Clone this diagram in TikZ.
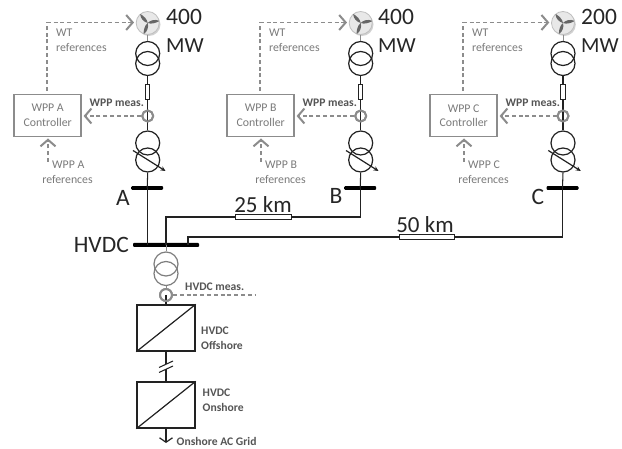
\documentclass[tikz,border=0pt]{standalone}
\usepackage{fontspec}
\setmainfont{Carlito}
\usetikzlibrary{arrows.meta,calc}
\definecolor{ctl}{HTML}{8C8C8C}
\definecolor{lab}{HTML}{7A7A7A}
\definecolor{meas}{HTML}{555555}
\definecolor{wire}{HTML}{222222}
\tikzset{
  x=1pt,y=-1pt,
  wireline/.style={draw=wire,line width=1.05pt},
  xfm/.style={circle,draw=wire,line width=1.2pt,minimum size=24pt,inner sep=0pt},
  xfmgray/.style={circle,draw=ctl!90!black,line width=1.2pt,minimum size=24pt,inner sep=0pt},
  fuse/.style={rectangle,draw=wire,fill=white,line width=.9pt,inner sep=0pt},
  sensor/.style={circle,draw=ctl,line width=1.9pt,minimum size=11pt,inner sep=0pt},
  bus/.style={rectangle,rounded corners=1pt,fill=black,inner sep=0pt,minimum height=3.6pt},
  ctlbox/.style={rectangle,draw=ctl,line width=1.8pt,minimum width=67pt,minimum height=42pt,inner sep=0pt,align=center,text=lab,font=\fontsize{11.8}{14.5}\selectfont},
  ctlflow/.style={draw=ctl,line width=1.9pt,dash pattern=on 4pt off 2.8pt,-{Straight Barb[length=6.5pt,width=15pt,line width=2pt]}},
  ctlplain/.style={draw=ctl,line width=1.5pt,dash pattern=on 4pt off 2.8pt},
  small/.style={text=lab,font=\fontsize{11.8}{14.5}\selectfont,inner sep=0pt,align=left},
  smallbold/.style={text=meas,font=\bfseries\fontsize{11.6}{14.3}\selectfont,inner sep=0pt,align=left},
  big/.style={text=black!85,font=\fontsize{23.5}{28}\selectfont,inner sep=0pt},
  rate/.style={text=black!85,font=\fontsize{21.5}{26}\selectfont,inner sep=0pt},
  mid/.style={text=black!85,font=\fontsize{23}{26}\selectfont,inner sep=0pt},
  conv/.style={rectangle,draw=wire,line width=1.4pt,minimum width=58pt,minimum height=46pt,inner sep=0pt},
  wtg/.style={circle,draw=black!25,fill=black!9,line width=.8pt,minimum size=23pt,inner sep=0pt},
}
% #1 letter, #2 x offset of the feeder, #3 rating, #4 x offset of the controller, #5 x offset of the rating
\newcommand{\feederunit}[5]{%
  \fill[black!18] (149+#2,24.5) circle (11.5);
  \node[wtg] (wt#1) at (147.7+#2,23) {};
  \foreach \ang in {10,130,250}{
    \fill[black!60,rotate around={\ang:(147.7+#2,23)}] (147.7+#2,23) .. controls (151+#2,20.5) and (156+#2,20.5) .. (159+#2,22.7) -- (159+#2,23.3) .. controls (155+#2,24.5) and (151+#2,25) .. (147.7+#2,23) -- cycle;
  }
  \node[xfm] (up#1a) at (147.7+#2,53.5) {};
  \node[xfm] (up#1b) at (147.7+#2,63.5) {};
  \node[fuse,minimum width=4.2pt,minimum height=14.5pt] (f#1) at (147.7+#2,92) {};
  \node[sensor] (s#1) at (147.7+#2,116) {};
  \node[xfm] (lo#1a) at (147.7+#2,143) {};
  \node[xfm] (lo#1b) at (147.7+#2,160) {};
  \node[bus,minimum width=32pt] (bus#1) at (147.2+#2,188) {};
  \draw[draw=black!45,line width=.8pt] (wt#1) -- (up#1a);
  \draw[wireline] (up#1b.south) -- (f#1.north);
  \draw[wireline] (f#1.south) -- (s#1.center);
  \draw[wireline] (s#1.center) -- (lo#1a.north);
  \draw[wireline] (lo#1b.south) -- (bus#1.center);
  \node[sensor] at (s#1) {};
  \coordinate (ta#1) at (133+#2,150.5);
  \coordinate (tb#1) at (165.5+#2,171);
  \draw[draw=wire,line width=1.2pt,-{Stealth[length=5pt,width=4.5pt]}] (ta#1) -- (tb#1);
  \node[ctlbox] (ctl#1) at (47.7+#4,115.5) {WPP #1\\Controller};
  \coordinate (gt#1) at (47.2+#4,91);
  \coordinate (gc#1) at (47.2+#4,22.5);
  \coordinate (ge#1) at (134+#2,22.5);
  \draw[ctlflow] (gt#1) -- (gc#1) -- (ge#1);
  \draw[ctlflow] (s#1.west) -- ($(s#1.west -| ctl#1.east)+(1.5,0)$);
  \coordinate (rf#1) at (48+#4,162);
  \coordinate (rt#1) at (48+#4,138.5);
  \draw[ctlflow] (rf#1) -- (rt#1);
  \node[small,anchor=west] at (56+#4,33) {WT};
  \node[small,anchor=west] at (56+#4,47.5) {references};
  \node[small,anchor=west] at (52+#4,165) {WPP #1};
  \node[small,anchor=center] at (67.5+#4,179.5) {references};
  \node[smallbold,anchor=west] at (89.5+#4,103) {WPP meas.};
  \node[big,anchor=west] at (166+#5,16.5) {#3};
  \node[rate,anchor=west] at (166+#5,46) {MW};
}
\begin{document}
\begin{tikzpicture}
\useasboundingbox (0,0) rectangle (622,449);
\fill[white] (0,0) rectangle (622,449);
\feederunit{A}{0}{400}{0}{0}
\feederunit{B}{213}{400}{213}{212}
\feederunit{C}{415.3}{200}{416}{415}
\node[bus,minimum width=66pt,minimum height=4pt] (busH) at (166,245) {};
\node[xfmgray] (hv1) at (166,264) {};
\node[xfmgray] (hv2) at (166,273.5) {};
\node[sensor,minimum size=12pt] (sH) at (166,295) {};
\node[conv] (off) at (166,328) {};
\node[conv] (on) at (166,405) {};
\coordinate (hvend) at (255,295);
\coordinate (acend) at (166,443);
\coordinate (jt1) at (166,217);
\coordinate (jt2) at (188,237);
\node[fuse,minimum width=56pt,minimum height=4.4pt] (l25) at (263,217) {};
\node[fuse,minimum width=55pt,minimum height=4.4pt] (l50) at (427,237) {};
\node[mid,anchor=center] at (263,205) {25 km};
\node[mid,anchor=center] at (425,225) {50 km};
\draw[wireline] (busA.center) -- (busA.center |- busH.center);
\draw[wireline] (busH.center -| jt1) -- (jt1) -- (l25.west);
\draw[wireline] (l25.east) -| (busB.center);
\draw[wireline] (busH.center -| jt2) -- (jt2) -- (l50.west);
\draw[wireline] (l50.east) -| (busC.center);
\draw[draw=ctl,line width=1pt] (busH.center) -- (hv1.north);
\draw[wireline] (sH.center) -- (off.north);
\node[sensor,minimum size=12pt] at (sH) {};
\draw[draw=ctl,line width=1pt] (hv2.south) -- (sH.north);
\draw[ctlplain] (sH.east) -- (hvend);
\draw[draw=wire,line width=1.2pt] (off.south west) -- (off.north east);
\draw[draw=wire,line width=1.2pt] (on.south west) -- (on.north east);
\coordinate (bk1a) at (159,367.5);
\coordinate (bk1b) at (173,361);
\coordinate (bk2a) at (159,372.5);
\coordinate (bk2b) at (173,366);
\draw[wireline] (off.south) -- ($(bk1a)!.5!(bk1b)$);
\draw[wireline] ($(bk2a)!.5!(bk2b)$) -- (on.north);
\draw[wireline] (bk1a) -- (bk1b);
\draw[wireline] (bk2a) -- (bk2b);
\draw[draw=wire,line width=1.1pt,-{Straight Barb[length=4.5pt,width=13pt,line width=1.2pt]}] (on.south) -- (acend);
\node[big,anchor=east] at (129,245) {HVDC};
\node[big,anchor=center] at (123,198) {A};
\node[big,anchor=center] at (336,196) {B};
\node[big,anchor=center] at (538,197) {C};
\node[smallbold,anchor=west] at (185,287) {HVDC meas.};
\node[smallbold,anchor=west] at (201,331) {HVDC};
\node[smallbold,anchor=west] at (201,345) {Offshore};
\node[smallbold,anchor=west] at (202.5,392.5) {HVDC};
\node[smallbold,anchor=west] at (202.5,407) {Onshore};
\node[smallbold,anchor=west] at (176.5,441) {Onshore AC Grid};
\end{tikzpicture}
\end{document}
